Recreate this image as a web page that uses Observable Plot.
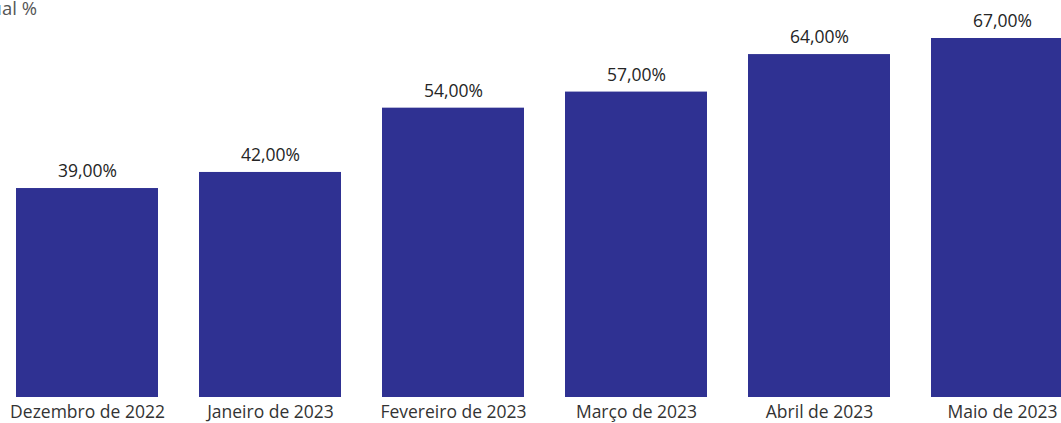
<!DOCTYPE html>
<html>
<head>
<meta charset="utf-8">
<script src="https://cdn.jsdelivr.net/npm/d3@7"></script>
<script src="https://cdn.jsdelivr.net/npm/@observablehq/plot@0.6"></script>
<style>
  html, body { margin: 0; padding: 0; background: #fff; overflow: hidden; }
  #chart { position: relative; width: 1061px; height: 423px; }
  #title { position: absolute; right: calc(1061px - 37px); top: -5px; font: 18.5px "Open Sans", sans-serif; color: #555; white-space: nowrap; }
</style>
</head>
<body>
<div id="chart"><div id="title">Percentual %</div></div>
<script>
const months = ["Dezembro de 2022", "Janeiro de 2023", "Fevereiro de 2023", "Março de 2023", "Abril de 2023", "Maio de 2023"];
const values = [39, 42, 54, 57, 64, 67];
const labels = ["39,00%", "42,00%", "54,00%", "57,00%", "64,00%", "67,00%"];

const data = months.map((m, i) => ({month: m, value: values[i], label: labels[i]}));

const plot = Plot.plot({
  width: 1061,
  height: 423,
  marginTop: 38,
  marginBottom: 26,
  marginLeft: 0,
  marginRight: 0,
  style: {fontFamily: "'Open Sans', sans-serif", fontSize: "15px", color: "#333", background: "transparent", overflow: "visible"},
  x: {domain: months, range: [-5.5, 1093.7], paddingInner: 0.224, paddingOuter: 0.112, label: null},
  y: {domain: [0, 67], axis: null},
  marks: [
    Plot.barY(data, {x: "month", y: "value", fill: "#2F3192"}),
    Plot.text(data, {x: "month", y: "value", text: "label", dy: -17, fontSize: 17.5, fill: "#252525"}),
    Plot.axisX({tickSize: 0, tickPadding: 8, fontSize: 17.5, color: "#333", label: null})
  ]
});
document.getElementById("chart").appendChild(plot);
</script>
</body>
</html>
